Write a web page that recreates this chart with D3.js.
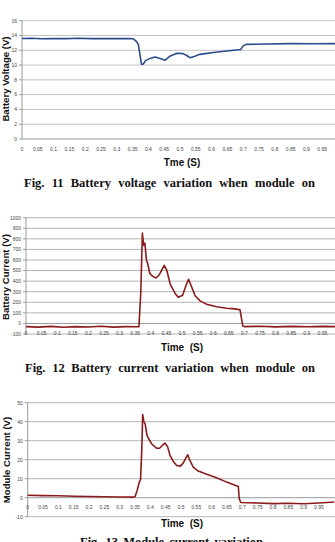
<!DOCTYPE html>
<html>
<head>
<meta charset="utf-8">
<script src="https://cdn.jsdelivr.net/npm/d3@7"></script>
<style>
  body { margin: 0; background: #fff; }
  svg { display: block; }
</style>
</head>
<body>
<div id="fig"></div>
<script>
// ---- data ----
const timeTicks = [0, 0.05, 0.1, 0.15, 0.2, 0.25, 0.3, 0.35, 0.4, 0.45, 0.5,
                   0.55, 0.6, 0.65, 0.7, 0.75, 0.8, 0.85, 0.9, 0.95, 1];

// Fig 11 - battery voltage
const voltageTicks = [0, 2, 4, 6, 8, 10, 12, 14, 16];
const voltageTime = [0, 0.03, 0.06, 0.1, 0.14, 0.18, 0.22, 0.26, 0.3, 0.34, 0.352, 0.362, 0.368,
                     0.373, 0.378, 0.384, 0.391, 0.405, 0.421, 0.437, 0.453, 0.468, 0.49, 0.51,
                     0.521, 0.532, 0.547, 0.563, 0.605, 0.648, 0.692, 0.7, 0.709, 0.774, 0.85, 0.92, 1];
const voltageValues = [13.6, 13.62, 13.55, 13.6, 13.58, 13.62, 13.57, 13.6, 13.58, 13.6, 13.55, 13.2, 12.8,
                       11.5, 10.1, 10.15, 10.6, 10.9, 11.1, 10.9, 10.65, 11.2, 11.6, 11.55,
                       11.3, 11.0, 11.2, 11.45, 11.7, 11.9, 12.1, 12.6, 12.8, 12.85, 12.9, 12.88, 12.9];

// Fig 12 - battery current
const batteryTicks = [-100, 0, 100, 200, 300, 400, 500, 600, 700, 800, 900, 1000];
const batteryTime = [0, 0.04, 0.08, 0.12, 0.16, 0.2, 0.24, 0.28, 0.32, 0.355, 0.362, 0.368, 0.373,
                     0.377, 0.381, 0.386, 0.39, 0.397, 0.406, 0.417, 0.427, 0.443, 0.451, 0.462,
                     0.478, 0.488, 0.502, 0.513, 0.521, 0.531, 0.542, 0.558, 0.579, 0.611, 0.643,
                     0.66, 0.675, 0.686, 0.695, 0.7, 0.75, 0.8, 0.85, 0.9, 0.95, 1];
const batteryValues = [-30, -35, -28, -36, -30, -34, -27, -35, -30, -32, -30, 300, 855,
                       740, 760, 600, 566, 472, 445, 430, 460, 550, 505, 375,
                       283, 248, 267, 361, 418, 345, 262, 213, 182, 157, 143,
                       140, 135, 128, -25, -30, -27, -33, -28, -32, -28, -31];

// Fig 13 - module current
const moduleTicks = [-10, 0, 10, 20, 30, 40, 50];
const moduleTime = [0, 0.05, 0.1, 0.15, 0.2, 0.25, 0.3, 0.345, 0.35, 0.357, 0.364, 0.368, 0.372,
                    0.375, 0.379, 0.383, 0.389, 0.395, 0.404, 0.42, 0.43, 0.442, 0.448, 0.456,
                    0.464, 0.475, 0.486, 0.497, 0.507, 0.516, 0.522, 0.529, 0.54, 0.556, 0.584,
                    0.616, 0.649, 0.67, 0.687, 0.69, 0.695, 0.75, 0.8, 0.85, 0.9, 0.95, 1];
const moduleValues = [1.3, 1.1, 1.0, 0.8, 0.6, 0.5, 0.4, 0.3, 0.5, 3.8, 8.2, 9.5, 25,
                      43.8, 39.8, 39, 32.8, 31, 28.4, 26.1, 26, 28, 28.7, 27,
                      22.3, 19.1, 17, 16.5, 18.2, 21, 22.6, 19.6, 16.1, 14, 12.3,
                      10.5, 8.2, 7, 5.9, -0.5, -2.5, -2.8, -3.1, -2.9, -3.2, -2.8, -2.3];

const width = 335;
const height = 542;

const svg = d3.select("#fig")
    .append("svg")
    .attr("width", width)
    .attr("height", height);

svg.append("rect").attr("width", width).attr("height", height).attr("fill", "#fff");

const sans = "'Liberation Sans', Arial, sans-serif";
const serif = "'Liberation Serif', 'Times New Roman', serif";

function drawChart(c) {
    const x = d3.scaleLinear().domain([0, 1]).range([c.x0, c.x1]);
    const y = d3.scaleLinear().domain(c.yDomain).range(c.yRange);
    const g = svg.append("g");

    // gridlines
    g.selectAll(".grid")
        .data(c.yTicks)
        .join("line")
        .attr("x1", c.x0)
        .attr("x2", width)
        .attr("y1", d => y(d))
        .attr("y2", d => y(d))
        .attr("stroke", d => d === 0 ? "#9a9a9a" : c.gridColor)
        .attr("stroke-width", 1);

    // y axis line + little ticks
    g.append("line")
        .attr("x1", c.x0).attr("x2", c.x0)
        .attr("y1", c.yRange[1]).attr("y2", c.yRange[0])
        .attr("stroke", "#9a9a9a");
    g.selectAll(".ytick")
        .data(c.yTicks)
        .join("line")
        .attr("x1", c.x0 - 3).attr("x2", c.x0)
        .attr("y1", d => y(d)).attr("y2", d => y(d))
        .attr("stroke", "#9a9a9a");

    g.selectAll(".ylab")
        .data(c.yTicks)
        .join("text")
        .attr("x", c.x0 - 5)
        .attr("y", d => y(d) + 1.8)
        .attr("text-anchor", "end")
        .attr("font-family", sans)
        .attr("font-size", 5)
        .attr("fill", "#444")
        .text(d => d);

    // x labels sit just under the zero line (only those that fit on the page)
    g.selectAll(".xlab")
        .data(timeTicks.filter(d => x(d) < width - 1))
        .join("text")
        .attr("x", d => x(d))
        .attr("y", y(0) + 11.5)
        .attr("text-anchor", "middle")
        .attr("font-family", sans)
        .attr("font-size", 5)
        .attr("fill", "#444")
        .text(d => d);

    // the trace
    const pts = c.time.map((t, i) => [t, c.values[i]]);
    g.append("path")
        .datum(pts)
        .attr("fill", "none")
        .attr("stroke", c.color)
        .attr("stroke-width", 1.6)
        .attr("stroke-linejoin", "round")
        .attr("d", d3.line().x(d => x(d[0])).y(d => y(d[1])));

    // axis titles
    const midY = (c.yRange[0] + c.yRange[1]) / 2;
    g.append("text")
        .attr("transform", `translate(${c.yTitleX},${c.yTitleY || midY}) rotate(-90)`)
        .attr("text-anchor", "middle")
        .attr("font-family", sans)
        .attr("font-weight", "bold")
        .attr("font-size", 9.6)
        .attr("fill", "#111")
        .text(c.yTitle);

    g.append("text")
        .attr("x", 182)
        .attr("y", c.xTitleY)
        .attr("text-anchor", "middle")
        .attr("font-family", sans)
        .attr("font-weight", "bold")
        .attr("font-size", 10)
        .attr("fill", "#111")
        .attr("xml:space", "preserve")
        .text(c.xTitle);

    // caption, justified word by word
    const words = c.caption.split(" ");
    const cap = g.append("g")
        .attr("font-family", serif)
        .attr("font-weight", "bold")
        .attr("font-size", 12.5)
        .attr("fill", "#111");
    const nodes = words.map(w => cap.append("text").attr("y", c.capY).text(w));
    const widths = nodes.map(n => n.node().getComputedTextLength());
    const total = d3.sum(widths);
    let gap = (c.capX1 - c.capX0 - total) / (words.length - 1);
    let cx = c.capX0;
    nodes.forEach((n, i) => {
        n.attr("x", cx);
        cx += widths[i] + gap;
    });
}

drawChart({
    x0: 22, x1: 338,
    yDomain: [0, 16], yRange: [139, 20.7], yTicks: voltageTicks,
    time: voltageTime, values: voltageValues,
    color: "#2c4a8c", gridColor: "#c4c4c4",
    yTitle: "Battery Voltage (V)", yTitleX: 8.5, yTitleY: 79,
    xTitle: "Tme (S)", xTitleY: 166,
    caption: "Fig. 11 Battery voltage variation when module on",
    capY: 186.5, capX0: 24, capX1: 315
});

drawChart({
    x0: 26, x1: 338,
    yDomain: [-100, 1000], yRange: [334, 217.7], yTicks: batteryTicks,
    time: batteryTime, values: batteryValues,
    color: "#8c1c1c", gridColor: "#b4b4b4",
    yTitle: "Battery Current (V)", yTitleX: 9, yTitleY: 277,
    xTitle: "Time  (S)", xTitleY: 350.5,
    caption: "Fig. 12 Battery current variation when module on",
    capY: 372, capX0: 25, capX1: 315
});

drawChart({
    x0: 27.7, x1: 334.3,
    yDomain: [-10, 50], yRange: [516.7, 402.7], yTicks: moduleTicks,
    time: moduleTime, values: moduleValues,
    color: "#8c1c1c", gridColor: "#b4b4b4",
    yTitle: "Module Current (V)", yTitleX: 9.5, yTitleY: 460,
    xTitle: "Time  (S)", xTitleY: 527,
    caption: "Fig. 13 Module current variation",
    capY: 546, capX0: 80, capX1: 263
});
</script>
</body>
</html>
